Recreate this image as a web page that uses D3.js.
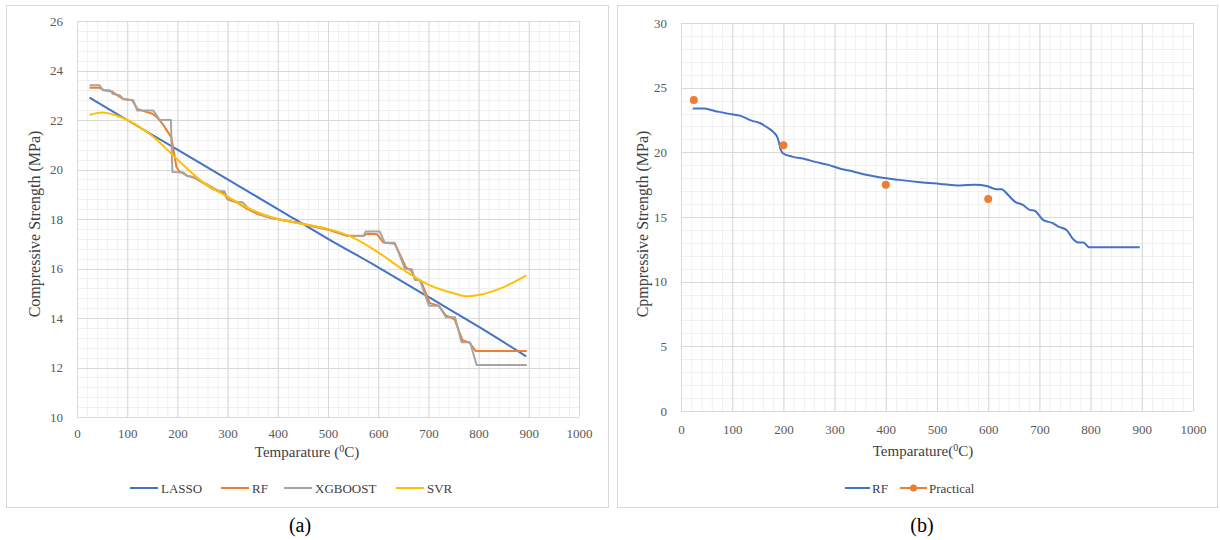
<!DOCTYPE html>
<html>
<head>
<meta charset="utf-8">
<script src="https://cdn.jsdelivr.net/npm/d3@7"></script>
<style>
  body { margin: 0; background: #fff; }
  svg text { font-family: "Times New Roman", "Liberation Serif", Times, "DejaVu Serif", serif !important; }
</style>
</head>
<body>
<svg id="chart" width="1220" height="540"></svg>
<script>
// ticks
const xTicks = [0, 100, 200, 300, 400, 500, 600, 700, 800, 900, 1000];
const yTicksA = [10, 12, 14, 16, 18, 20, 22, 24, 26];
const yTicksB = [0, 5, 10, 15, 20, 25, 30];

// (a) LASSO
const lassoT = [25, 100, 200, 300, 400, 450, 500, 600, 700, 800, 895];
const lassoV = [22.9, 22.0, 20.8, 19.6, 18.4, 17.8, 17.2, 16.05, 14.85, 13.65, 12.45];

// (a) SVR
const svrT = [25, 50, 75, 100, 150, 200, 250, 300, 350, 400, 450, 500, 550, 600, 650, 700, 750, 775, 800, 850, 895];
const svrV = [22.2, 22.3, 22.2, 22.0, 21.35, 20.4, 19.5, 18.9, 18.35, 18.0, 17.8, 17.6, 17.25, 16.65, 15.95, 15.35, 15.0, 14.88, 14.93, 15.25, 15.72];

// (a) RF
const rfT = [25, 45, 55, 70, 80, 92, 110, 120, 135, 150, 160, 172, 183, 188, 198, 205, 220, 235, 252, 272, 292, 300, 320, 340, 360, 385, 412, 452, 470, 503, 537, 570, 578, 598, 610, 633, 645, 655, 666, 675, 685, 703, 720, 735, 752, 768, 782, 794, 896];
const rfV = [23.3, 23.3, 23.2, 23.15, 23.0, 22.85, 22.8, 22.45, 22.35, 22.25, 22.1, 21.8, 21.45, 21.3, 20.1, 19.9, 19.75, 19.65, 19.45, 19.2, 19.05, 18.8, 18.65, 18.4, 18.2, 18.05, 17.95, 17.8, 17.7, 17.55, 17.32, 17.32, 17.4, 17.38, 17.05, 17.0, 16.5, 16.05, 15.9, 15.55, 15.5, 14.6, 14.5, 14.1, 13.95, 13.1, 13.0, 12.67, 12.67];

// (a) XGBOOST
const xgbT = [25, 45, 52, 65, 72, 85, 92, 112, 120, 152, 165, 187, 190, 212, 218, 232, 240, 255, 268, 284, 294, 300, 318, 330, 340, 355, 370, 385, 410, 440, 470, 503, 530, 540, 571, 575, 603, 613, 633, 653, 667, 673, 683, 701, 721, 735, 753, 766, 783, 796, 896];
const xgbV = [23.4, 23.4, 23.2, 23.2, 23.05, 23.0, 22.85, 22.8, 22.38, 22.38, 22.0, 22.0, 19.9, 19.88, 19.75, 19.7, 19.6, 19.45, 19.3, 19.12, 19.12, 18.8, 18.7, 18.68, 18.45, 18.3, 18.15, 18.05, 17.95, 17.85, 17.72, 17.57, 17.4, 17.31, 17.31, 17.49, 17.49, 17.04, 17.04, 16.0, 15.97, 15.54, 15.54, 14.5, 14.5, 14.03, 14.03, 13.02, 13.02, 12.1, 12.1];

// (b) RF
const rfbT = [23, 44, 66, 99, 115, 138, 155, 171, 181, 189, 195, 199, 217, 243, 262, 288, 308, 328, 354, 387, 426, 467, 506, 545, 574, 597, 616, 626, 639, 652, 668, 681, 690, 707, 726, 737, 753, 766, 776, 786, 797, 896];
const rfbV = [23.38, 23.38, 23.2, 22.94, 22.84, 22.45, 22.25, 21.86, 21.55, 21.09, 20.19, 19.93, 19.67, 19.47, 19.26, 19.03, 18.77, 18.59, 18.33, 18.08, 17.87, 17.69, 17.56, 17.43, 17.5, 17.4, 17.15, 17.15, 16.7, 16.19, 15.94, 15.55, 15.5, 14.78, 14.52, 14.26, 14.0, 13.28, 13.02, 13.02, 12.66, 12.66];

// (b) Practical
const practT = [25, 200, 400, 600];
const practV = [24.05, 20.55, 17.5, 16.4];

const C = { lasso: '#4472c4', rf: '#ed7d31', xgb: '#a5a5a5', svr: '#ffc000' };
const FONT = '"Times New Roman", "Liberation Serif", Times, serif';
const zip = (t, v) => t.map((d, i) => [d, v[i]]);

const svg = d3.select('#chart').attr('font-family', FONT);

// panel frames
svg.append('rect').attr('x', 6.5).attr('y', 5.5).attr('width', 602).attr('height', 502)
    .attr('fill', 'none').attr('stroke', '#d9d9d9');
svg.append('rect').attr('x', 617.5).attr('y', 5.5).attr('width', 600).attr('height', 502)
    .attr('fill', 'none').attr('stroke', '#d9d9d9');

function panel(cfg) {
    const x = d3.scaleLinear().domain([0, 1000]).range(cfg.xr);
    const y = d3.scaleLinear().domain(cfg.yd).range(cfg.yr);
    const g = svg.append('g');

    // minor grid
    g.append('g').selectAll('line').data(d3.range(0, 1001, 20))
        .join('line').attr('x1', d => x(d) + .5).attr('x2', d => x(d) + .5)
        .attr('y1', cfg.yr[0]).attr('y2', cfg.yr[1]).attr('stroke', '#f0f0f0');
    g.append('g').selectAll('line').data(d3.range(cfg.yd[0], cfg.yd[1] + 1e-6, cfg.minorY))
        .join('line').attr('y1', d => Math.round(y(d)) + .5).attr('y2', d => Math.round(y(d)) + .5)
        .attr('x1', cfg.xr[0]).attr('x2', cfg.xr[1]).attr('stroke', '#f0f0f0');
    // major grid
    g.append('g').selectAll('line').data(xTicks)
        .join('line').attr('x1', d => x(d) + .5).attr('x2', d => x(d) + .5)
        .attr('y1', cfg.yr[0]).attr('y2', cfg.yr[1]).attr('stroke', '#d9d9d9');
    g.append('g').selectAll('line').data(cfg.yTicks)
        .join('line').attr('y1', d => Math.round(y(d)) + .5).attr('y2', d => Math.round(y(d)) + .5)
        .attr('x1', cfg.xr[0]).attr('x2', cfg.xr[1]).attr('stroke', '#d9d9d9');

    // axes (labels only)
    const xa = g.append('g').attr('transform', `translate(0,${cfg.yr[0]})`)
        .call(d3.axisBottom(x).tickValues(xTicks).tickSize(0).tickPadding(cfg.xPad).tickFormat(d3.format('d')));
    const ya = g.append('g').attr('transform', `translate(${cfg.xr[0]},0)`)
        .call(d3.axisLeft(y).tickValues(cfg.yTicks).tickSize(0).tickPadding(14).tickFormat(d3.format('d')));
    [xa, ya].forEach(a => {
        a.attr('font-family', FONT).attr('font-size', 13);
        a.select('.domain').remove();
        a.selectAll('text').attr('fill', '#595959');
    });

    // axis titles
    const xt = g.append('text').attr('x', cfg.xTitleX).attr('y', cfg.xTitleY)
        .attr('text-anchor', 'middle').attr('fill', '#404040').attr('font-size', 15);
    xt.append('tspan').text(cfg.xTitle[0]);
    xt.append('tspan').text('0').attr('baseline-shift', 'super').attr('font-size', 10);
    xt.append('tspan').text('C)');

    g.append('text').attr('transform', `translate(${cfg.yTitleX},${cfg.yTitleY}) rotate(-90)`)
        .attr('text-anchor', 'middle').attr('fill', '#404040').attr('font-size', 16)
        .text(cfg.yTitle);

    return { x, y, g };
}

// ---- (a)
const A = panel({
    xr: [77, 579], yd: [10, 26], yr: [417, 21], yTicks: yTicksA, minorY: 0.4, xPad: 12,
    xTitle: ['Temparature ('], xTitleX: 307, xTitleY: 457,
    yTitle: 'Compressive Strength (MPa)', yTitleX: 40, yTitleY: 224
});
const lineA = d3.line().x(d => A.x(d[0])).y(d => A.y(d[1]));
const lineAs = d3.line().x(d => A.x(d[0])).y(d => A.y(d[1])).curve(d3.curveMonotoneX);

A.g.append('path').datum(zip(lassoT, lassoV)).attr('d', lineAs)
    .attr('fill', 'none').attr('stroke', C.lasso).attr('stroke-width', 2);
A.g.append('path').datum(zip(rfT, rfV)).attr('d', lineA)
    .attr('fill', 'none').attr('stroke', C.rf).attr('stroke-width', 2).attr('stroke-linejoin', 'round');
A.g.append('path').datum(zip(xgbT, xgbV)).attr('d', lineA)
    .attr('fill', 'none').attr('stroke', C.xgb).attr('stroke-width', 2).attr('stroke-linejoin', 'round');
A.g.append('path').datum(zip(svrT, svrV)).attr('d', lineAs)
    .attr('fill', 'none').attr('stroke', C.svr).attr('stroke-width', 2);

// legend (a)
const legA = [
    { name: 'LASSO', c: C.lasso, x: 130 },
    { name: 'RF', c: C.rf, x: 221 },
    { name: 'XGBOOST', c: C.xgb, x: 284 },
    { name: 'SVR', c: C.svr, x: 396 }
];
const la = svg.append('g').selectAll('g').data(legA).join('g')
    .attr('transform', d => `translate(${d.x},488)`);
la.append('line').attr('x1', 0).attr('x2', 28).attr('stroke', d => d.c).attr('stroke-width', 2);
la.append('text').attr('x', 31).attr('dy', '0.35em').attr('fill', '#404040')
    .attr('font-size', 13).text(d => d.name);

// ---- (b)
const B = panel({
    xr: [681, 1193], yd: [0, 30], yr: [411, 23], yTicks: yTicksB, minorY: 1, xPad: 14,
    xTitle: ['Temparature('], xTitleX: 923, xTitleY: 456,
    yTitle: 'Cpmpressive Strength (MPa)', yTitleX: 648, yTitleY: 224
});
const lineB = d3.line().x(d => B.x(d[0])).y(d => B.y(d[1])).curve(d3.curveMonotoneX);
B.g.append('path').datum(zip(rfbT, rfbV)).attr('d', lineB)
    .attr('fill', 'none').attr('stroke', C.lasso).attr('stroke-width', 2);
B.g.append('g').selectAll('circle').data(zip(practT, practV)).join('circle')
    .attr('cx', d => B.x(d[0])).attr('cy', d => B.y(d[1])).attr('r', 4).attr('fill', C.rf);

// legend (b)
const lb = svg.append('g');
lb.append('line').attr('x1', 845).attr('x2', 870).attr('y1', 488).attr('y2', 488)
    .attr('stroke', C.lasso).attr('stroke-width', 2);
lb.append('text').attr('x', 872).attr('y', 488).attr('dy', '0.35em').attr('fill', '#404040')
    .attr('font-size', 13).text('RF');
lb.append('line').attr('x1', 900).attr('x2', 927).attr('y1', 488).attr('y2', 488)
    .attr('stroke', C.rf).attr('stroke-width', 2);
lb.append('circle').attr('cx', 913.5).attr('cy', 488).attr('r', 3.5).attr('fill', C.rf);
lb.append('text').attr('x', 929).attr('y', 488).attr('dy', '0.35em').attr('fill', '#404040')
    .attr('font-size', 13).text('Practical');

// captions
svg.append('text').attr('x', 300).attr('y', 532).attr('text-anchor', 'middle')
    .attr('fill', '#000').attr('font-size', 20).text('(a)');
svg.append('text').attr('x', 922).attr('y', 532).attr('text-anchor', 'middle')
    .attr('fill', '#000').attr('font-size', 20).text('(b)');
</script>
</body>
</html>
